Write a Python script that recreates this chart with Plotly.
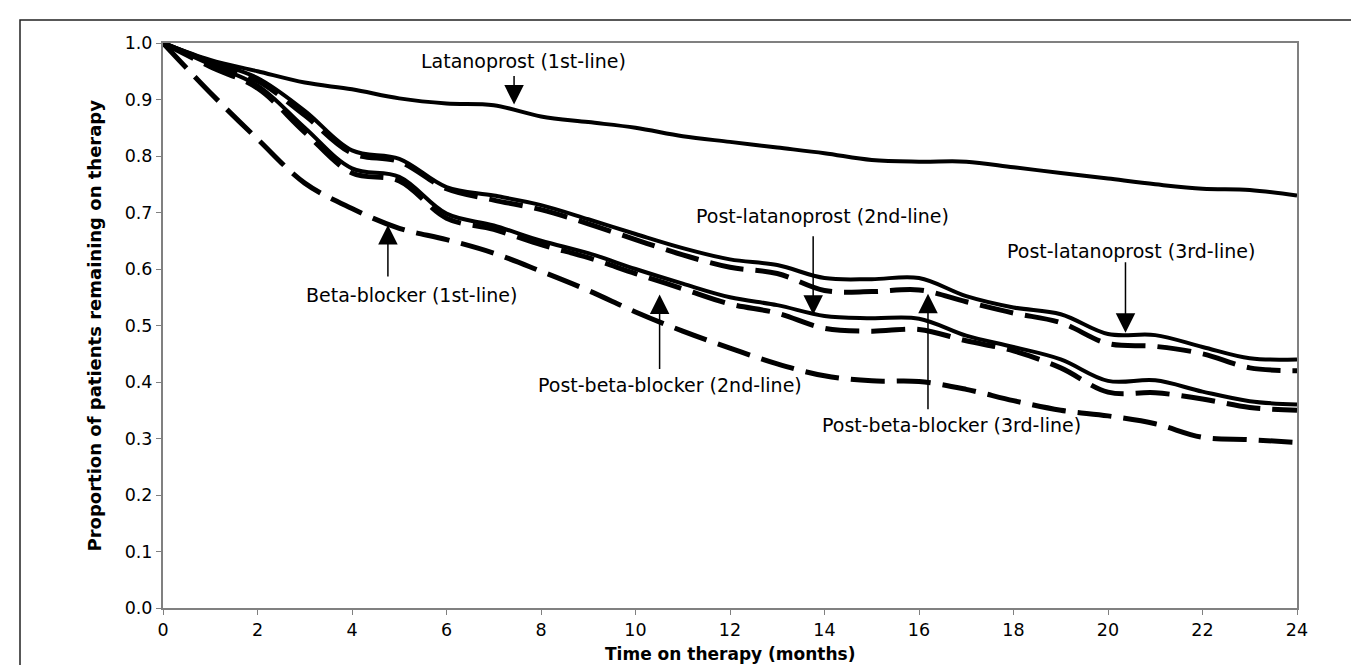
import plotly.graph_objects as go

months = list(range(0, 25))

latanoprost_1st = [1.0, 0.97, 0.95, 0.93, 0.918, 0.902, 0.893, 0.89, 0.87, 0.86, 0.85, 0.835,
                   0.825, 0.815, 0.805, 0.793, 0.79, 0.79, 0.78, 0.77, 0.76, 0.75, 0.742, 0.74, 0.73]
beta_blocker_1st = [1.0, 0.912, 0.83, 0.752, 0.707, 0.672, 0.652, 0.628, 0.596, 0.562, 0.524, 0.49,
                    0.46, 0.432, 0.411, 0.402, 0.401, 0.387, 0.367, 0.35, 0.34, 0.326, 0.302, 0.298, 0.293]
post_lat_3rd = [1.0, 0.968, 0.938, 0.88, 0.81, 0.795, 0.745, 0.73, 0.713, 0.688, 0.662, 0.637,
                0.617, 0.607, 0.584, 0.582, 0.584, 0.552, 0.532, 0.52, 0.485, 0.483, 0.462, 0.442, 0.44]
post_bb_3rd = [1.0, 0.965, 0.933, 0.872, 0.805, 0.79, 0.742, 0.722, 0.705, 0.68, 0.652, 0.625,
               0.603, 0.592, 0.562, 0.56, 0.563, 0.542, 0.522, 0.505, 0.468, 0.463, 0.45, 0.425, 0.42]
post_lat_2nd = [1.0, 0.962, 0.925, 0.85, 0.778, 0.763, 0.698, 0.677, 0.65, 0.628, 0.6, 0.574,
                0.55, 0.536, 0.517, 0.513, 0.512, 0.482, 0.462, 0.44, 0.402, 0.403, 0.383, 0.366, 0.36]
post_bb_2nd = [1.0, 0.958, 0.92, 0.842, 0.77, 0.756, 0.69, 0.67, 0.643, 0.62, 0.592, 0.565,
               0.538, 0.522, 0.495, 0.49, 0.493, 0.473, 0.455, 0.425, 0.382, 0.381, 0.37, 0.355, 0.35]

series = [
    ("Latanoprost (1st-line)", latanoprost_1st, "solid"),
    ("Beta-blocker (1st-line)", beta_blocker_1st, "dash"),
    ("Post-latanoprost (3rd-line)", post_lat_3rd, "solid"),
    ("Post-beta-blocker (3rd-line)", post_bb_3rd, "dash"),
    ("Post-latanoprost (2nd-line)", post_lat_2nd, "solid"),
    ("Post-beta-blocker (2nd-line)", post_bb_2nd, "dash"),
]

y_ticks = [i / 10 for i in range(11)]
x_ticks = list(range(0, 25, 2))

FONT = "DejaVu Sans"

fig = go.Figure()
for name, vals, style in series:
    if style == "solid":
        line = dict(color="black", width=4, shape="spline", smoothing=1.0)
    else:
        line = dict(color="black", width=5, dash="34px,12px", shape="spline", smoothing=1.0)
    fig.add_trace(go.Scatter(x=months, y=vals, mode="lines", name=name, line=line,
                             showlegend=False, hoverinfo="skip"))

# labels: (text, label_x, label_y, tip_x, tip_y, ay_pixels)
labels = [
    ("Latanoprost (1st-line)", 7.63, 0.968, 7.43, 0.891, -30),
    ("Beta-blocker (1st-line)", 5.26, 0.5545, 4.76, 0.678, 53),
    ("Post-latanoprost (2nd-line)", 13.95, 0.694, 13.76, 0.519, -80),
    ("Post-latanoprost (3rd-line)", 20.49, 0.632, 20.37, 0.487, -72),
    ("Post-beta-blocker (2nd-line)", 10.74, 0.395, 10.51, 0.555, 76),
    ("Post-beta-blocker (3rd-line)", 16.68, 0.324, 16.19, 0.556, 117),
]

annotations = []
for text, lx, ly, tx, ty, ay in labels:
    annotations.append(dict(x=lx, y=ly, xref="x", yref="y", text=text, showarrow=False,
                            font=dict(family=FONT, size=19, color="black"),
                            xanchor="center", yanchor="middle"))
    annotations.append(dict(x=tx, y=ty, xref="x", yref="y", text="", showarrow=True,
                            ax=0, ay=ay, arrowhead=2, arrowsize=2.6, arrowwidth=1.5,
                            arrowcolor="black", standoff=0))

annotations.append(dict(x=0.5, y=(600 - 646) / 565, xref="paper", yref="paper",
                        text="<b>Time on therapy (months)</b>", showarrow=False,
                        font=dict(family=FONT, size=17, color="black"),
                        xanchor="center", yanchor="middle"))
annotations.append(dict(x=(86 - 155) / 1134, y=0.5, xref="paper", yref="paper",
                        text="<b>Proportion of patients remaining on therapy</b>", showarrow=False,
                        textangle=-90, font=dict(family=FONT, size=18, color="black"),
                        xanchor="center", yanchor="middle"))

fig.update_layout(
    width=1359, height=665,
    margin=dict(l=155, r=70, t=35, b=65),
    paper_bgcolor="white", plot_bgcolor="white",
    annotations=annotations,
    shapes=[dict(type="rect", xref="paper", yref="paper",
                 x0=(12 - 155) / 1134, x1=1.3, y0=-0.3, y1=1 + (35 - 12) / 565,
                 line=dict(color="#222222", width=1.5), layer="below")],
)
fig.update_xaxes(range=[0, 24], tickvals=x_ticks, ticktext=[str(v) for v in x_ticks],
                 showgrid=False, zeroline=False, showline=True, linecolor="#808080", linewidth=2,
                 mirror=True, ticks="outside", ticklen=5, tickcolor="#808080", tickwidth=1,
                 tickfont=dict(family=FONT, size=17.5, color="black"))
fig.update_yaxes(range=[0, 1.0], tickvals=y_ticks, ticktext=[f"{v:.1f}" for v in y_ticks],
                 showgrid=False, zeroline=False, showline=True, linecolor="#808080", linewidth=2,
                 mirror=True, ticks="outside", ticklen=5, tickcolor="#808080", tickwidth=1,
                 tickfont=dict(family=FONT, size=17.5, color="black"))

fig.write_html("out.html")
